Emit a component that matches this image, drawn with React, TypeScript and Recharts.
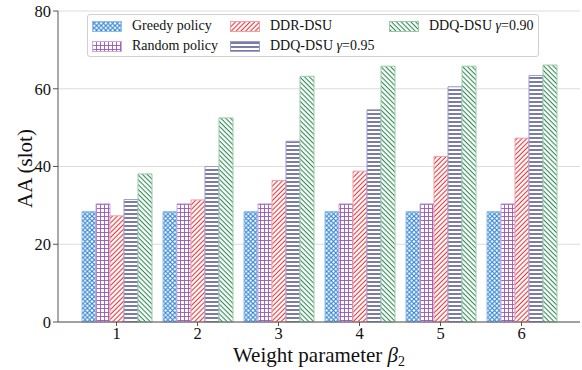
import React from 'react';
import { BarChart, Bar, XAxis, YAxis, CartesianGrid } from 'recharts';

// β2 values on the x axis
const categories = ['1', '2', '3', '4', '5', '6'];

// Average age of information (slots) per policy
const greedyPolicy = [28.4, 28.4, 28.4, 28.4, 28.4, 28.4];
const randomPolicy = [30.4, 30.4, 30.4, 30.4, 30.4, 30.4];
const ddrDsu = [27.3, 31.4, 36.4, 38.8, 42.6, 47.3];
const ddqDsu095 = [31.5, 40.0, 46.5, 54.6, 60.5, 63.4];
const ddqDsu090 = [38.1, 52.5, 63.2, 65.8, 65.8, 66.1];

const yTicks = [0, 20, 40, 60, 80];

type Series = {
  key: string;
  name: string;
  gamma?: string;
  values: number[];
  ink: string;
  edge: string;
};

const series: Series[] = [
  { key: 'greedy', name: 'Greedy policy', values: greedyPolicy, ink: '#2b7fd2', edge: '#8fc0ec' },
  { key: 'random', name: 'Random policy', values: randomPolicy, ink: '#9b55b8', edge: '#cda8de' },
  { key: 'ddr', name: 'DDR-DSU', values: ddrDsu, ink: '#e5353b', edge: '#f2a0a2' },
  { key: 'ddq95', name: 'DDQ-DSU ', gamma: '=0.95', values: ddqDsu095, ink: '#23236f', edge: '#9d9dcb' },
  { key: 'ddq90', name: 'DDQ-DSU ', gamma: '=0.90', values: ddqDsu090, ink: '#2f8a55', edge: '#9ccaa9' },
];

const data = categories.map((c, i) => {
  const row: Record<string, string | number> = { beta: c };
  series.forEach((s) => {
    row[s.key] = s.values[i];
  });
  return row;
});

const FONT = "'Liberation Serif', 'Times New Roman', serif";

// Hatch patterns: xx, ++, //, --, \\
const Patterns = () => (
  <svg width={0} height={0} style={{ position: 'absolute' }}>
    <defs>
      <pattern id="hatch-greedy" patternUnits="userSpaceOnUse" width={4.6} height={4.6}>
        <rect width={4.6} height={4.6} fill="#fff" />
        <path d="M0,0 L4.6,4.6 M4.6,0 L0,4.6" stroke={series[0].ink} strokeWidth={1.1} />
      </pattern>
      <pattern id="hatch-random" patternUnits="userSpaceOnUse" width={4} height={4}>
        <rect width={4} height={4} fill="#fff" />
        <path d="M0.5,0 L0.5,4 M0,0.5 L4,0.5" stroke={series[1].ink} strokeWidth={0.9} />
      </pattern>
      <pattern id="hatch-ddr" patternUnits="userSpaceOnUse" width={3.4} height={3.4} patternTransform="rotate(45)">
        <rect width={3.4} height={3.4} fill="#fff" />
        <path d="M1.2,0 L1.2,3.4" stroke={series[2].ink} strokeWidth={1.1} />
      </pattern>
      <pattern id="hatch-ddq95" patternUnits="userSpaceOnUse" width={4} height={4}>
        <rect width={4} height={4} fill="#fff" />
        <path d="M0,2 L4,2" stroke={series[3].ink} strokeWidth={1.2} />
      </pattern>
      <pattern id="hatch-ddq90" patternUnits="userSpaceOnUse" width={3.4} height={3.4} patternTransform="rotate(-45)">
        <rect width={3.4} height={3.4} fill="#fff" />
        <path d="M1.2,0 L1.2,3.4" stroke={series[4].ink} strokeWidth={1.1} />
      </pattern>
    </defs>
  </svg>
);

const YLabel = (props: any) => {
  const vb = props.viewBox || { x: 0, y: 11, width: 58, height: 311 };
  const x = vb.x + 32;
  const y = vb.y + vb.height / 2 + 2;
  return (
    <text
      x={x}
      y={y}
      transform={`rotate(-90 ${x} ${y})`}
      textAnchor="middle"
      style={{ fontFamily: FONT, fontSize: 21 }}
      fill="#111"
    >
      AA (slot)
    </text>
  );
};

const XLabel = (props: any) => {
  const vb = props.viewBox || { x: 58, y: 322, width: 522, height: 48 };
  const x = vb.x + vb.width / 2;
  const y = vb.y + 40;
  return (
    <text x={x} y={y} textAnchor="middle" style={{ fontFamily: FONT, fontSize: 21 }} fill="#111">
      Weight parameter <tspan fontStyle="italic">β</tspan>
      <tspan fontSize={14} dy={4}>2</tspan>
    </text>
  );
};

const tickStyle = { fontFamily: FONT, fontSize: 16.5, fill: '#111' };

const LegendBox = () => (
  <div
    style={{
      position: 'absolute',
      left: 87,
      top: 14,
      width: 452,
      height: 43,
      boxSizing: 'border-box',
      border: '1px solid #d0d0d0',
      borderRadius: 3,
      background: 'rgba(255,255,255,0.85)',
      display: 'grid',
      gridTemplateRows: '20px 20px',
      gridTemplateColumns: '138px 159px 140px',
      gridAutoFlow: 'column',
      paddingLeft: 4,
      paddingTop: 1,
      fontFamily: FONT,
      fontSize: 14,
      color: '#111',
    }}
  >
    {series.map((s) => (
      <div key={s.key} style={{ display: 'flex', alignItems: 'center', whiteSpace: 'nowrap' }}>
        <svg width={30} height={11} style={{ marginRight: 10, flex: 'none' }}>
          <rect x={0.5} y={0.5} width={29} height={10} fill={`url(#hatch-${s.key})`} stroke={s.edge} strokeWidth={1} />
        </svg>
        <span>
          {s.name}
          {s.gamma ? (
            <>
              <i>γ</i>
              {s.gamma}
            </>
          ) : null}
        </span>
      </div>
    ))}
  </div>
);

export default function App() {
  return (
    <div style={{ position: 'absolute', left: 0, top: 0, width: 582, height: 370, background: '#fff', fontFamily: FONT }}>
      <Patterns />
      <BarChart
        width={582}
        height={370}
        data={data}
        margin={{ top: 11, right: 2, bottom: 0, left: 0 }}
        barCategoryGap={6}
        barGap={0}
        style={{ fontFamily: FONT }}
      >
        <CartesianGrid vertical={false} stroke="#dcdcdc" strokeWidth={1} />
        <XAxis
          dataKey="beta"
          height={48}
          padding={{ left: 18, right: 18 }}
          axisLine={{ stroke: '#555', strokeWidth: 1 }}
          tickLine={{ stroke: '#555' }}
          tickSize={4}
          tickMargin={1}
          tick={tickStyle}
          label={<XLabel />}
        />
        <YAxis
          width={58}
          domain={[0, 80]}
          ticks={yTicks}
          interval={0}
          axisLine={{ stroke: '#555', strokeWidth: 1 }}
          tickLine={{ stroke: '#555' }}
          tickSize={5}
          tickMargin={2}
          tick={tickStyle}
          label={<YLabel />}
        />
        {series.map((s) => (
          <Bar
            key={s.key}
            dataKey={s.key}
            name={s.name}
            fill={`url(#hatch-${s.key})`}
            stroke={s.edge}
            strokeWidth={1}
            isAnimationActive={false}
          />
        ))}
      </BarChart>
      <LegendBox />
    </div>
  );
}
